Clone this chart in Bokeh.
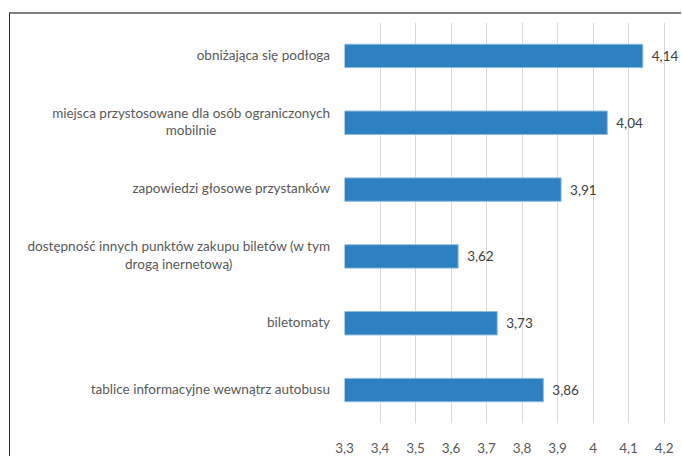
from bokeh.plotting import figure
from bokeh.models import (ColumnDataSource, FactorRange, Range1d, FixedTicker,
                          LabelSet, Div)
from bokeh.layouts import row
from bokeh.core.properties import value
from bokeh.embed import file_html
from bokeh.resources import INLINE

categories = [
    "obniżająca się podłoga",
    "miejsca przystosowane dla osób ograniczonych\nmobilnie",
    "zapowiedzi głosowe przystanków",
    "dostępność innych punktów zakupu biletów (w tym\ndrogą inernetową)",
    "biletomaty",
    "tablice informacyjne wewnątrz autobusu",
]
values = [4.14, 4.04, 3.91, 3.62, 3.73, 3.86]
x_ticks = [3.3, 3.4, 3.5, 3.6, 3.7, 3.8, 3.9, 4.0, 4.1, 4.2]
x_tick_labels = ["3,3", "3,4", "3,5", "3,6", "3,7", "3,8", "3,9", "4", "4,1", "4,2"]

value_labels = [f"{v:.2f}".replace(".", ",") for v in values]

FONT = "Lato"
TXT = "#595959"

# layout (pixels)
H = 442
TOP, BOTTOM = 8, 33
PAD_L = 14          # room left of the frame for the first tick label
LABEL_W = 334 - PAD_L
FRAME_W = 337
SPAN_PX = 319.6     # pixels between first and last tick
frame_h = H - TOP - BOTTOM
row_h = frame_h / len(categories)

src = ColumnDataSource(dict(cat=categories, val=values, lab=value_labels,
                            base=[x_ticks[0]] * len(values)))

x_end = x_ticks[0] + (x_ticks[-1] - x_ticks[0]) * FRAME_W / SPAN_PX
p = figure(width=FRAME_W + PAD_L, height=H, output_backend="svg", toolbar_location=None,
           y_range=FactorRange(factors=categories[::-1]),
           x_range=Range1d(x_ticks[0], x_end),
           min_border_left=PAD_L, min_border_right=0, min_border_top=TOP,
           min_border_bottom=BOTTOM)
p.margin = 0
p.outline_line_color = None
p.background_fill_color = "white"
p.border_fill_color = "white"

p.hbar(y="cat", left="base", right="val", height=0.35, source=src,
       fill_color="#2E81C0", line_color="#8DBBE3", line_width=1)

p.yaxis.visible = False
p.ygrid.grid_line_color = None
p.xgrid.grid_line_color = "#D9D9D9"
p.xgrid.grid_line_width = 1

p.xaxis.ticker = FixedTicker(ticks=x_ticks)
p.xaxis.major_label_overrides = dict(zip(x_ticks, x_tick_labels))
p.xaxis.axis_line_color = None
p.xaxis.major_tick_line_color = None
p.xaxis.minor_tick_line_color = None
p.xaxis.major_label_standoff = 13
p.xaxis.major_label_text_font = FONT
p.xaxis.major_label_text_font_size = "13.5px"
p.xaxis.major_label_text_color = TXT

val_labels = LabelSet(x="val", y="cat", text="lab", source=src, x_offset=9,
                      text_align="left", text_baseline="middle",
                      text_font=value(FONT), text_font_size="13.5px",
                      text_color="#404040")
p.add_layout(val_labels)

cells = "".join(
    f'<div style="height:{row_h:.3f}px;display:flex;align-items:center;'
    f'justify-content:flex-end;text-align:center;white-space:nowrap;">'
    f'<span>{c.replace(chr(10), "<br>")}</span></div>'
    for c in categories)
labels_div = Div(
    text=(f'<div style="box-sizing:border-box;width:{LABEL_W}px;padding-top:{TOP}px;'
          f'padding-right:0px;font-family:{FONT};font-size:13.5px;color:{TXT};'
          f'line-height:1.3;">{cells}</div>'),
    width=LABEL_W, height=H, margin=0)

layout = row(labels_div, p, spacing=0)
layout.margin = (12, 0, 0, 9)
layout.styles = {"border-left": "1.5px solid #2b2b2b", "border-top": "2px solid #808080",
                 "background": "white"}

open("out.html", "w").write(file_html(layout, INLINE))
